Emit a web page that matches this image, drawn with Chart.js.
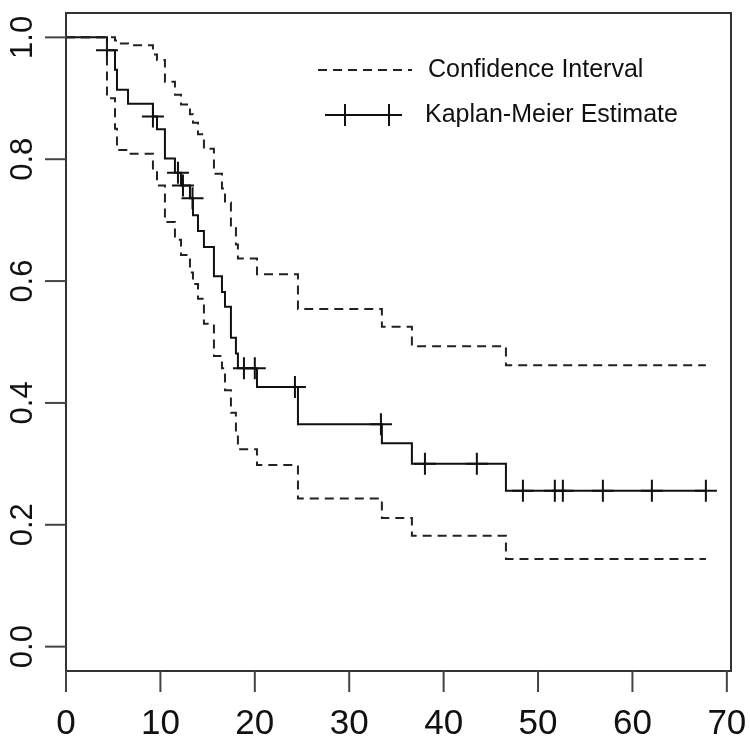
<!DOCTYPE html>
<html><head><meta charset="utf-8">
<script src="https://cdn.jsdelivr.net/npm/chart.js@4/dist/chart.umd.min.js"></script>
<style>html,body{margin:0;padding:0;background:#fff;overflow:hidden}</style>
</head><body>
<canvas id="c" width="750" height="743" style="display:block;width:750px;height:743px"></canvas>
<script>
// Event times (months) and step values
const eventTimes = [0, 4.34, 5.19, 5.40, 6.57, 9.21, 9.64, 10.48, 11.54, 12.18, 13.13, 13.45, 13.98, 14.61, 15.67, 16.52, 16.84, 17.47, 18.00, 18.21, 20.23, 24.57, 33.46, 36.64, 46.60, 67.78];
const kmSurvival = [1, 0.979, 0.947, 0.914, 0.891, 0.870, 0.849, 0.801, 0.778, 0.757, 0.736, 0.708, 0.682, 0.656, 0.608, 0.582, 0.558, 0.507, 0.481, 0.457, 0.426, 0.365, 0.334, 0.300, 0.256, 0.256];
const upperCI = [1, 1.0, 0.995, 0.990, 0.987, 0.972, 0.963, 0.927, 0.906, 0.890, 0.874, 0.860, 0.841, 0.817, 0.776, 0.752, 0.729, 0.687, 0.660, 0.637, 0.611, 0.554, 0.525, 0.493, 0.462, 0.462];
const lowerCI = [1, 0.900, 0.850, 0.815, 0.809, 0.781, 0.757, 0.697, 0.668, 0.643, 0.614, 0.595, 0.571, 0.530, 0.477, 0.457, 0.421, 0.384, 0.352, 0.324, 0.298, 0.243, 0.211, 0.182, 0.144, 0.144];
const censorTimes = [4.34, 9.21, 11.86, 12.39, 13.40, 18.85, 20.0, 24.25, 33.36, 38.02, 43.52, 48.40, 51.78, 52.63, 56.87, 62.06, 67.78];
const censorSurvival = [0.979, 0.870, 0.778, 0.757, 0.736, 0.457, 0.457, 0.426, 0.365, 0.300, 0.300, 0.256, 0.256, 0.256, 0.256, 0.256, 0.256];
const xTicks = [0, 10, 20, 30, 40, 50, 60, 70];
const yTicks = [0, 0.2, 0.4, 0.6, 0.8, 1.0];
const yTickLabels = ["0.0", "0.2", "0.4", "0.6", "0.8", "1.0"];
const legendLabels = ["Confidence Interval", "Kaplan-Meier Estimate"];

const toXY = (xs, ys) => xs.map((x, i) => ({x: x, y: ys[i]}));
const FONT = '"Liberation Sans", Arial, Helvetica, sans-serif';
const INK = '#111';

const framePlugin = {
  id: 'frame',
  afterDraw(chart) {
    const ctx = chart.ctx;
    const a = chart.chartArea;
    const xs = chart.scales.x, ys = chart.scales.y;
    ctx.save();
    // box
    ctx.strokeStyle = '#333';
    ctx.lineWidth = 2;
    ctx.setLineDash([]);
    ctx.strokeRect(a.left, a.top, a.right - a.left, a.bottom - a.top);
    // x ticks + labels
    ctx.strokeStyle = '#444';
    ctx.fillStyle = INK;
    ctx.font = '35px ' + FONT;
    ctx.textAlign = 'center';
    ctx.textBaseline = 'alphabetic';
    xTicks.forEach(v => {
      const px = xs.getPixelForValue(v);
      ctx.beginPath(); ctx.moveTo(px, a.bottom); ctx.lineTo(px, a.bottom + 21); ctx.stroke();
      ctx.fillText(String(v), px, a.bottom + 63);
    });
    // y ticks + rotated labels
    ctx.font = '31px ' + FONT;
    yTicks.forEach((v, i) => {
      const py = ys.getPixelForValue(v);
      ctx.beginPath(); ctx.moveTo(a.left - 21, py); ctx.lineTo(a.left, py); ctx.stroke();
      ctx.save();
      ctx.translate(a.left - 34, py);
      ctx.rotate(-Math.PI / 2);
      ctx.textAlign = 'center';
      ctx.textBaseline = 'alphabetic';
      ctx.fillText(yTickLabels[i], 0, 0);
      ctx.restore();
    });
    // legend
    ctx.font = '25px ' + FONT;
    ctx.textAlign = 'left';
    ctx.textBaseline = 'middle';
    ctx.strokeStyle = '#222';
    ctx.lineWidth = 2;
    ctx.setLineDash([9, 6]);
    ctx.beginPath(); ctx.moveTo(318, 70); ctx.lineTo(412, 70); ctx.stroke();
    ctx.setLineDash([]);
    ctx.fillText(legendLabels[0], 428, 70);
    ctx.strokeStyle = INK;
    ctx.beginPath(); ctx.moveTo(325, 115); ctx.lineTo(402, 115); ctx.stroke();
    [345, 389].forEach(cx => {
      ctx.beginPath(); ctx.moveTo(cx, 104); ctx.lineTo(cx, 126); ctx.stroke();
    });
    ctx.fillText(legendLabels[1], 425, 115);
    ctx.restore();
  }
};

new Chart(document.getElementById('c'), {
  type: 'line',
  data: {
    datasets: [
      {label: 'Upper CI', data: toXY(eventTimes, upperCI), stepped: true, borderColor: '#222', borderWidth: 2, borderDash: [9, 6], pointRadius: 0, fill: false},
      {label: 'Lower CI', data: toXY(eventTimes, lowerCI), stepped: true, borderColor: '#222', borderWidth: 2, borderDash: [9, 6], pointRadius: 0, fill: false},
      {label: 'Kaplan-Meier Estimate', data: toXY(eventTimes, kmSurvival), stepped: true, borderColor: INK, borderWidth: 2, pointRadius: 0, fill: false},
      {label: 'Censored', data: toXY(censorTimes, censorSurvival), showLine: false, pointStyle: 'cross', pointRadius: 11, pointBorderWidth: 2, pointBorderColor: INK, borderColor: INK, pointBackgroundColor: INK}
    ]
  },
  options: {
    responsive: false,
    animation: false,
    events: [],
    layout: {padding: {left: 66, top: 6, right: 19, bottom: 72}},
    scales: {
      x: {type: 'linear', min: 0, max: 70.44, display: false},
      y: {type: 'linear', min: -0.04, max: 1.04, display: false}
    },
    plugins: {legend: {display: false}, tooltip: {enabled: false}}
  },
  plugins: [framePlugin]
});
</script>
</body></html>
